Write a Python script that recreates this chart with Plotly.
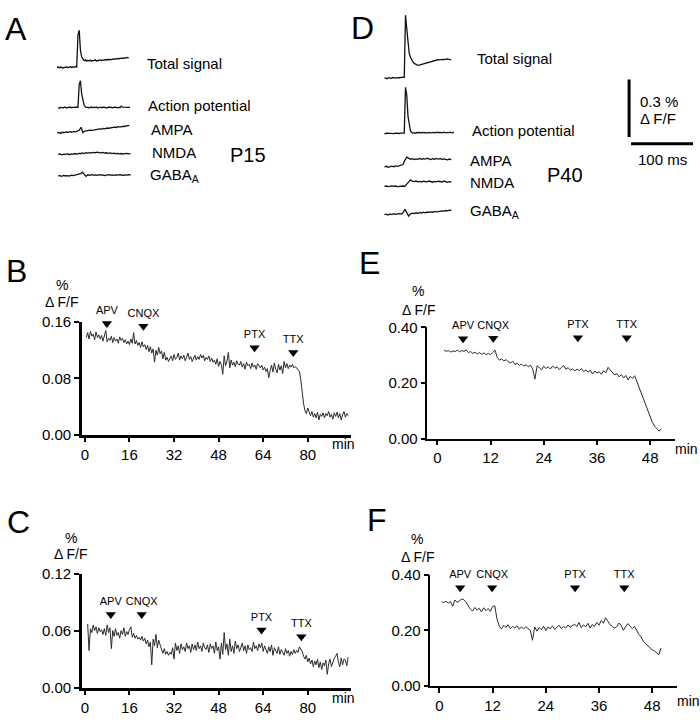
import numpy as np
import plotly.graph_objects as go

W, H = 700, 720
FONT = "Arial, Liberation Sans, Helvetica, sans-serif"

# ======================= DATA =======================
# --- Panel B (P15): % dF/F vs time (min), sampled every 0.5 min from 0.5 min
B_start, B_step = 0.5, 0.5
B_values = [
    0.138, 0.145, 0.136, 0.147, 0.140, 0.143, 0.135, 0.146, 0.138, 0.142,
    0.136, 0.141, 0.133, 0.139, 0.148, 0.132, 0.137, 0.134, 0.140, 0.131,
    0.138, 0.133, 0.136, 0.130, 0.139, 0.134, 0.137, 0.131, 0.135, 0.129,
    0.133, 0.128, 0.136, 0.130, 0.145, 0.129, 0.134, 0.127, 0.131, 0.124,
    0.132, 0.125, 0.128, 0.121, 0.127, 0.118, 0.125, 0.116, 0.122, 0.103,
    0.120, 0.113, 0.124, 0.115, 0.119, 0.108, 0.117, 0.106, 0.110, 0.104,
    0.108, 0.112, 0.105, 0.114, 0.107, 0.110, 0.116, 0.106, 0.112, 0.108,
    0.113, 0.105, 0.110, 0.116, 0.107, 0.111, 0.104, 0.109, 0.113, 0.106,
    0.111, 0.107, 0.114, 0.109, 0.113, 0.105, 0.110, 0.107, 0.112, 0.104,
    0.109, 0.103, 0.106, 0.100, 0.108, 0.097, 0.104, 0.099, 0.086, 0.112,
    0.098, 0.104, 0.117, 0.095, 0.106, 0.099, 0.103, 0.097, 0.105, 0.100,
    0.099, 0.104, 0.096, 0.101, 0.093, 0.103, 0.098, 0.100, 0.094, 0.102,
    0.096, 0.099, 0.093, 0.101, 0.097, 0.095, 0.099, 0.092, 0.096, 0.090,
    0.094, 0.081, 0.091, 0.099, 0.089, 0.102, 0.093, 0.088, 0.100, 0.092,
    0.098, 0.087, 0.104, 0.095, 0.101, 0.094, 0.099, 0.096, 0.100, 0.095,
    0.097, 0.095, 0.092, 0.090, 0.078, 0.060, 0.044, 0.034, 0.030, 0.038,
    0.031, 0.027, 0.033, 0.025, 0.030, 0.024, 0.032, 0.021, 0.029, 0.026,
    0.031, 0.024, 0.030, 0.027, 0.033, 0.025, 0.029, 0.022, 0.031, 0.026,
    0.032, 0.024, 0.030, 0.021, 0.028, 0.033, 0.025, 0.030, 0.027,
]

# --- Panel C (P15, second cell), sampled every 0.5 min from 1.0 min
C_start, C_step = 1.0, 0.5
C_values = [
    0.067, 0.039, 0.062, 0.058, 0.066, 0.060, 0.064, 0.057, 0.063, 0.059,
    0.061, 0.056, 0.062, 0.055, 0.066, 0.058, 0.063, 0.041, 0.060, 0.054,
    0.062, 0.055, 0.058, 0.052, 0.060, 0.056, 0.063, 0.054, 0.059, 0.056,
    0.061, 0.064, 0.053, 0.057, 0.052, 0.055, 0.051, 0.053, 0.050, 0.054,
    0.049, 0.052, 0.046, 0.050, 0.043, 0.048, 0.024, 0.051, 0.044, 0.056,
    0.042, 0.050, 0.045, 0.039, 0.036, 0.041, 0.035, 0.038, 0.034, 0.037,
    0.035, 0.042, 0.030, 0.047, 0.039, 0.044, 0.036, 0.046, 0.040, 0.043,
    0.038, 0.047, 0.041, 0.044, 0.037, 0.046, 0.040, 0.045, 0.039, 0.048,
    0.041, 0.044, 0.038, 0.047, 0.042, 0.040, 0.045, 0.037, 0.046, 0.041,
    0.044, 0.036, 0.048, 0.039, 0.043, 0.030, 0.047, 0.035, 0.058, 0.040,
    0.046, 0.034, 0.051, 0.038, 0.044, 0.036, 0.049, 0.041, 0.045, 0.038,
    0.043, 0.047, 0.039, 0.044, 0.036, 0.045, 0.040, 0.042, 0.038, 0.048,
    0.041, 0.044, 0.039, 0.046, 0.042, 0.047, 0.038, 0.044, 0.040, 0.036,
    0.043, 0.038, 0.045, 0.034, 0.042, 0.039, 0.036, 0.043, 0.035, 0.040,
    0.037, 0.034, 0.041, 0.036, 0.039, 0.033, 0.038, 0.035, 0.040, 0.036,
    0.039, 0.037, 0.043, 0.041, 0.038, 0.033, 0.030, 0.034, 0.027, 0.031,
    0.025, 0.029, 0.022, 0.028, 0.024, 0.030, 0.021, 0.027, 0.019, 0.026,
    0.023, 0.029, 0.014, 0.025, 0.030, 0.022, 0.028, 0.031, 0.033, 0.036,
    0.027, 0.022, 0.031, 0.024, 0.030, 0.029, 0.023, 0.032,
]

# --- Panel E (P40), sampled every 0.5 min from 1.5 min
E_start, E_step = 1.5, 0.5
E_values = [
    0.318, 0.314, 0.316, 0.311, 0.315, 0.313, 0.318, 0.312, 0.316, 0.314,
    0.318, 0.309, 0.313, 0.306, 0.311, 0.304, 0.309, 0.303, 0.308, 0.302,
    0.306, 0.302, 0.310, 0.318, 0.292, 0.282, 0.287, 0.279, 0.284, 0.276,
    0.272, 0.278, 0.266, 0.271, 0.263, 0.268, 0.260, 0.266, 0.258, 0.264,
    0.250, 0.214, 0.262, 0.255, 0.247, 0.260, 0.252, 0.258, 0.250, 0.261,
    0.253, 0.258, 0.248, 0.256, 0.262, 0.249, 0.255, 0.246, 0.251, 0.243,
    0.250, 0.244, 0.252, 0.241, 0.247, 0.239, 0.246, 0.232, 0.243, 0.236,
    0.240, 0.231, 0.244, 0.236, 0.256, 0.246, 0.238, 0.229, 0.234, 0.222,
    0.230, 0.218, 0.227, 0.211, 0.224, 0.216, 0.226, 0.205, 0.185, 0.160,
    0.140, 0.118, 0.097, 0.076, 0.058, 0.045, 0.035, 0.027, 0.034,
]

# --- Panel F (P40, second cell), sampled every 0.5 min from 0.5 min
F_start, F_step = 0.5, 0.5
F_values = [
    0.302, 0.300, 0.304, 0.298, 0.303, 0.286, 0.309, 0.300, 0.306, 0.312,
    0.310, 0.302, 0.288, 0.276, 0.269, 0.282, 0.272, 0.279, 0.266, 0.281,
    0.270, 0.278, 0.268, 0.285, 0.288, 0.240, 0.215, 0.205, 0.218, 0.210,
    0.220, 0.206, 0.214, 0.208, 0.216, 0.204, 0.212, 0.205, 0.213, 0.207,
    0.200, 0.164, 0.212, 0.197, 0.210, 0.202, 0.215, 0.199, 0.212, 0.205,
    0.216, 0.203, 0.210, 0.218, 0.206, 0.214, 0.208, 0.219, 0.211, 0.216,
    0.222, 0.213, 0.228, 0.209, 0.220, 0.212, 0.225, 0.208, 0.221, 0.214,
    0.228, 0.218, 0.235, 0.225, 0.245, 0.232, 0.220, 0.214, 0.208, 0.213,
    0.226, 0.218, 0.200, 0.212, 0.224, 0.215, 0.206, 0.214, 0.198, 0.185,
    0.176, 0.160, 0.152, 0.144, 0.138, 0.130, 0.126, 0.120, 0.112, 0.136,
]

# --- Drug application times (min)
drug_labels = ["APV", "CNQX", "PTX", "TTX"]
B_drug_times = [7.9, 21.0, 60.9, 74.8]
C_drug_times = [9.3, 20.4, 63.4, 77.7]
E_drug_times = [5.8, 12.6, 31.7, 42.7]
F_drug_times = [4.7, 11.9, 30.6, 41.7]

# --- Tick values
BC_xticks = [0, 16, 32, 48, 64, 80]
EF_xticks = [0, 12, 24, 36, 48]
B_yticks = [0.0, 0.08, 0.16]
C_yticks = [0.0, 0.06, 0.12]
EF_yticks = [0.0, 0.20, 0.40]

# --- Optical traces (% dF/F above baseline) vs time (ms)
trace_names = ["Total signal", "Action potential", "AMPA", "NMDA", "GABA<sub>A</sub>"]
# P15 (panel A): (start ms, step ms, values)
A_total = (0, 2, [
    0.000, 0.004, -0.002, 0.003, 0.001, -0.003, 0.002, 0.000, 0.004, -0.001,
    0.002, 0.005, 0.001, 0.004, 0.002, 0.006, 0.003, 0.170, 0.195, 0.090,
    0.055, 0.042, 0.036, 0.040, 0.034, 0.038, 0.035, 0.039, 0.033, 0.037,
    0.036, 0.040, 0.034, 0.038, 0.037, 0.041, 0.036, 0.040, 0.038, 0.042,
    0.039, 0.043, 0.040, 0.044, 0.041, 0.045, 0.043, 0.046, 0.044, 0.048,
    0.045, 0.049, 0.047, 0.050, 0.048, 0.052, 0.050, 0.053, 0.051])
A_ap = (2, 2, [
    0.000, -0.003, 0.002, 0.000, -0.002, 0.003, 0.001, -0.002, 0.002, 0.000,
    0.003, -0.001, 0.002, 0.000, 0.003, 0.001, 0.002, 0.120, 0.140, 0.070,
    0.030, 0.012, 0.004, 0.000, 0.002, -0.002, 0.001, 0.003, -0.001, 0.002,
    0.000, 0.003, -0.002, 0.001, 0.002, -0.001, 0.003, 0.000, 0.002, -0.002,
    0.001, 0.003, 0.000, 0.002, -0.001, 0.001, 0.003, 0.000, 0.002, 0.001,
    0.000, 0.008, 0.002, 0.001, 0.003, 0.000, 0.002, 0.001, 0.002])
A_ampa = (0, 3, [
    0.000, 0.003, -0.002, 0.004, 0.002, 0.005, 0.003, 0.007, 0.004, 0.008,
    0.006, 0.010, 0.014, 0.030, 0.002, 0.010, 0.012, 0.011, 0.015, 0.014,
    0.016, 0.019, 0.017, 0.022, 0.020, 0.024, 0.022, 0.026, 0.025, 0.028,
    0.027, 0.031, 0.029, 0.033, 0.031, 0.035, 0.034, 0.037, 0.036, 0.040])
A_nmda = (2, 3, [
    0.000, 0.003, -0.002, 0.002, 0.000, 0.004, -0.001, 0.003, 0.001, 0.005,
    0.002, 0.006, 0.004, 0.008, 0.005, 0.009, 0.007, 0.010, 0.008, 0.011,
    0.009, 0.012, 0.010, 0.008, 0.011, 0.007, 0.009, 0.006, 0.008, 0.005,
    0.007, 0.004, 0.006, 0.003, 0.005, 0.002, 0.004, 0.006, 0.003, 0.004])
A_gaba = (2, 3, [
    0.000, 0.002, -0.002, 0.003, 0.000, 0.002, -0.001, 0.004, 0.002, 0.005,
    0.004, 0.008, 0.012, 0.020, 0.008, -0.002, 0.006, 0.003, 0.007, 0.004,
    0.006, 0.003, 0.007, 0.004, 0.006, 0.002, 0.005, 0.007, 0.004, 0.006,
    0.003, 0.006, 0.004, 0.007, 0.005, 0.003, 0.006, 0.004, 0.007, 0.005])
# P40 (panel D)
D_total = (0, 2, [
    0.000, 0.002, -0.002, 0.001, 0.003, 0.000, 0.002, 0.004, 0.001, 0.003,
    0.002, 0.004, 0.003, 0.005, 0.003, 0.006, 0.005, 0.330, 0.260, 0.170,
    0.130, 0.110, 0.096, 0.086, 0.078, 0.073, 0.070, 0.068, 0.069, 0.071,
    0.074, 0.076, 0.079, 0.081, 0.083, 0.085, 0.087, 0.088, 0.090, 0.091,
    0.093, 0.094, 0.095, 0.097, 0.096, 0.098, 0.097, 0.099, 0.098, 0.100,
    0.099, 0.101, 0.099, 0.100, 0.098])
D_ap = (0, 2, [
    0.000, -0.002, 0.001, 0.000, 0.002, -0.001, 0.001, 0.000, -0.002, 0.001,
    0.000, 0.002, -0.001, 0.001, 0.000, 0.002, 0.001, 0.240, 0.200, 0.090,
    0.035, 0.012, 0.004, 0.001, 0.003, 0.000, 0.004, 0.002, 0.005, 0.001,
    0.003, 0.005, 0.002, 0.004, 0.001, 0.003, 0.005, 0.002, 0.004, 0.003,
    0.005, 0.002, 0.004, 0.006, 0.003, 0.005, 0.002, 0.004, 0.006, 0.003,
    0.005, 0.003, 0.004, 0.006, 0.003, 0.002, 0.008])
D_ampa = (0, 3, [
    0.000, 0.003, -0.002, 0.002, 0.004, 0.001, 0.005, 0.003, 0.006, 0.008,
    0.012, 0.035, 0.051, 0.046, 0.040, 0.043, 0.038, 0.042, 0.039, 0.044,
    0.040, 0.043, 0.041, 0.045, 0.042, 0.038, 0.043, 0.040, 0.044, 0.041,
    0.043, 0.039, 0.042, 0.040, 0.037, 0.041, 0.038])
D_nmda = (0, 3, [
    0.000, 0.002, -0.001, 0.001, 0.003, 0.000, 0.002, -0.001, 0.001, 0.000,
    0.002, 0.000, 0.012, 0.028, 0.034, 0.027, 0.025, 0.028, 0.024, 0.026,
    0.023, 0.027, 0.025, 0.024, 0.028, 0.025, 0.022, 0.026, 0.024, 0.027,
    0.025, 0.023, 0.028, 0.024, 0.021, 0.025, 0.023])
D_gaba = (0, 3, [
    0.000, 0.003, -0.002, 0.004, 0.001, 0.005, 0.002, 0.004, 0.006, 0.003,
    0.010, 0.029, 0.012, -0.007, 0.004, 0.008, 0.006, 0.010, 0.007, 0.011,
    0.009, 0.013, 0.010, 0.014, 0.012, 0.015, 0.013, 0.017, 0.015, 0.018,
    0.017, 0.020, 0.019, 0.022, 0.020, 0.024, 0.023])

# Scale bar values
scale_pct = 0.3   # % dF/F
scale_ms = 100    # ms

# ======================= LAYOUT HELPERS =======================
def xdom(p0, p1):
    return [p0 / W, p1 / W]

def ydom(top, bottom):
    return [1 - bottom / H, 1 - top / H]

def xrng(p0, p1, pz, s):
    return [(p0 - pz) / s, (p1 - pz) / s]

def yrng(top, bottom, pz, s):
    return [(pz - bottom) / s, (pz - top) / s]

def sample_times(start, step, n):
    return start + step * np.arange(n)

fig = go.Figure()

LINE_COL = "#2b2b2b"

# --- main time-course panels
panels = [
    ("x", "y", B_start, B_step, B_values, B_drug_times, [0.158, 0.154, 0.1235, 0.117]),
    ("x2", "y2", C_start, C_step, C_values, C_drug_times, [0.077, 0.077, 0.0607, 0.0535]),
    ("x3", "y3", E_start, E_step, E_values, E_drug_times, [0.359, 0.361, 0.362, 0.362]),
    ("x4", "y4", F_start, F_step, F_values, F_drug_times, [0.353, 0.353, 0.353, 0.353]),
]
for xa, ya, st, sp, vals, dts, ay in panels:
    fig.add_trace(go.Scatter(
        x=sample_times(st, sp, len(vals)), y=vals, mode="lines",
        line=dict(color=LINE_COL, width=1), xaxis=xa, yaxis=ya,
        showlegend=False, hoverinfo="skip"))
    fig.add_trace(go.Scatter(
        x=dts, y=ay, mode="markers+text", text=drug_labels,
        textposition="top center",
        textfont=dict(family=FONT, size=11, color="black"),
        marker=dict(symbol="triangle-down", size=9, color="black"),
        xaxis=xa, yaxis=ya, cliponaxis=False, showlegend=False,
        hoverinfo="skip"))

# --- optical traces (A and D)
A_set = [A_total, A_ap, A_ampa, A_nmda, A_gaba]
D_set = [D_total, D_ap, D_ampa, D_nmda, D_gaba]
A_base_px = [60, 101, 127, 149, 171]
D_base_px = [71, 127.3, 161.7, 181.7, 210.7]
PX_PER_MS = 0.62
PX_PER_PCT = 196.0
A_bottom, D_bottom = 200, 225

for tr_set, base_px, bottom, xa, ya in [
        (A_set, A_base_px, A_bottom, "x5", "y5"),
        (D_set, D_base_px, D_bottom, "x6", "y6")]:
    for (st, sp, vals), bp in zip(tr_set, base_px):
        offset = (bottom - bp) / PX_PER_PCT
        fig.add_trace(go.Scatter(
            x=sample_times(st, sp, len(vals)),
            y=np.array(vals) + offset, mode="lines",
            line=dict(color="#111111", width=1.3),
            xaxis=xa, yaxis=ya, showlegend=False, hoverinfo="skip"))

# ======================= AXES =======================
def main_axis(lw, tw):
    return dict(showline=True, linecolor="black", linewidth=lw,
                ticks="outside", ticklen=5, tickwidth=tw, tickcolor="black",
                showgrid=False, zeroline=False, fixedrange=True,
                tickfont=dict(family=FONT, size=15, color="black"))

hidden = dict(visible=False, showgrid=False, zeroline=False, fixedrange=True)

layout = dict(
    width=W, height=H, autosize=False,
    margin=dict(l=0, r=0, t=0, b=0),
    paper_bgcolor="white", plot_bgcolor="white",
    showlegend=False,
)

# B
layout["xaxis"] = dict(main_axis(2.5, 2), domain=xdom(81, 350),
                       range=xrng(81, 350, 84, 2.79), anchor="y",
                       tickvals=BC_xticks)
layout["yaxis"] = dict(main_axis(2.5, 2), domain=ydom(320.7, 436),
                       range=[0, 0.16], anchor="x",
                       tickvals=B_yticks, tickformat=".2f")
# C
layout["xaxis2"] = dict(main_axis(2.5, 2), domain=xdom(81, 350),
                        range=xrng(81, 350, 84, 2.79), anchor="y2",
                        tickvals=BC_xticks)
layout["yaxis2"] = dict(main_axis(2.5, 2), domain=ydom(578.3, 695),
                        range=[0, 0.12], anchor="x2",
                        tickvals=C_yticks, tickformat=".2f")
# E
layout["xaxis3"] = dict(main_axis(1.5, 1.5), domain=xdom(427, 675),
                        range=xrng(427, 675, 437, 4.44), anchor="y3",
                        tickvals=EF_xticks)
layout["yaxis3"] = dict(main_axis(1.5, 1.5), domain=ydom(326, 440),
                        range=[0, 0.4], anchor="x3",
                        tickvals=EF_yticks, tickformat=".2f")
# F
layout["xaxis4"] = dict(main_axis(1.5, 1.5), domain=xdom(430, 677),
                        range=xrng(430, 677, 439, 4.44), anchor="y4",
                        tickvals=EF_xticks)
layout["yaxis4"] = dict(main_axis(1.5, 1.5), domain=ydom(579.3, 693.3),
                        range=[0, 0.4], anchor="x4",
                        tickvals=EF_yticks, tickformat=".2f")
# A traces
layout["xaxis5"] = dict(hidden, domain=xdom(50, 140),
                        range=xrng(50, 140, 56, PX_PER_MS), anchor="y5")
layout["yaxis5"] = dict(hidden, domain=ydom(0, A_bottom),
                        range=yrng(0, A_bottom, A_bottom, PX_PER_PCT), anchor="x5")
# D traces
layout["xaxis6"] = dict(hidden, domain=xdom(378, 460),
                        range=xrng(378, 460, 384, PX_PER_MS), anchor="y6")
layout["yaxis6"] = dict(hidden, domain=ydom(0, D_bottom),
                        range=yrng(0, D_bottom, D_bottom, PX_PER_PCT), anchor="x6")
# scale bar axes
SB_X0, SB_Y0 = 629, 131
layout["xaxis7"] = dict(hidden, domain=xdom(615, 700),
                        range=xrng(615, 700, SB_X0, PX_PER_MS), anchor="y7")
layout["yaxis7"] = dict(hidden, domain=ydom(60, 170),
                        range=yrng(60, 170, SB_Y0, PX_PER_PCT), anchor="x7")

hbar_y = -7 / PX_PER_PCT
hbar_x0 = 2 / PX_PER_MS
shapes = [
    dict(type="line", xref="x7", yref="y7", x0=0, x1=0, y0=0, y1=scale_pct,
         line=dict(color="black", width=3)),
    dict(type="line", xref="x7", yref="y7", x0=hbar_x0, x1=hbar_x0 + scale_ms,
         y0=hbar_y, y1=hbar_y, line=dict(color="black", width=3)),
]
layout["shapes"] = shapes

# ======================= TEXT =======================
def ann(text, xp, yp, size, xanchor="center"):
    return dict(text=text, x=xp / W, y=1 - yp / H, xref="paper", yref="paper",
                xanchor=xanchor, yanchor="middle", showarrow=False,
                font=dict(family=FONT, size=size, color="black"))

anns = []
# panel letters
for letter, xp, yp in [("A", 15, 20), ("B", 16, 268), ("C", 18, 525),
                       ("D", 362, 19), ("E", 369, 260), ("F", 377, 523)]:
    anns.append(ann(letter, xp, yp, 32))
# trace labels
for name, xp, yp in zip(trace_names, [144, 145, 148, 149, 147],
                        [56, 99, 123, 147, 171]):
    anns.append(ann(name, xp, yp, 15, "left"))
for name, xp, yp in zip(trace_names, [475, 470, 468, 468, 468],
                        [51, 124, 155, 178, 207]):
    anns.append(ann(name, xp, yp, 15, "left"))
anns.append(ann("P15", 227, 150, 20, "left"))
anns.append(ann("P40", 545, 170, 20, "left"))
# scale bar text
anns.append(ann("0.3 %", 638, 95, 15, "left"))
anns.append(ann("\u0394 F/F", 638, 112, 15, "left"))
anns.append(ann("100 ms", 662, 154, 15))
# y-axis titles
for xp, yp1, yp2 in [(61, 283, 300), (418, 289, 308), (70, 542, 558), (417, 543, 561)]:
    anns.append(ann("%", xp, yp1, 14))
    anns.append(ann("\u0394 F/F", xp, yp2, 14))
# x-axis unit labels
for xp, yp in [(343, 446), (343, 706), (686, 451), (688, 709)]:
    anns.append(ann("min", xp, yp, 14))
layout["annotations"] = anns

fig.update_layout(**layout)
fig.write_html(
    "out.html",
    config={"displayModeBar": False},
    post_script="document.body.style.margin='0px';document.body.style.overflow='hidden';",
)
